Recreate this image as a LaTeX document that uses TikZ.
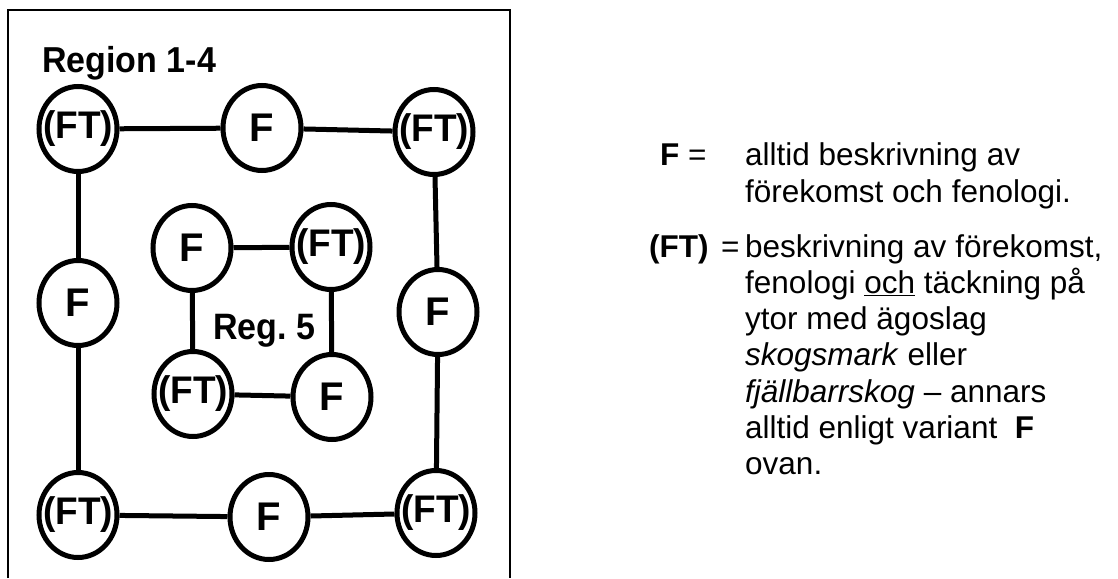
\documentclass[tikz,border=0pt]{standalone}
\usepackage{fontspec}
\setmainfont{Liberation Sans}
\usetikzlibrary{shapes.geometric}
\newcommand{\ctrF}{\makebox[0pt]{\fontsize{40}{40}\selectfont F}}
\newcommand{\ctrFT}{\makebox[0pt]{\fontsize{37}{37}\selectfont\scalebox{1}[1.04]{(FT)}}}
\tikzset{
  ring/.style={draw, ellipse, minimum width=78pt, minimum height=85pt, inner sep=0pt,
    line width=5pt, font=\bfseries},
  conn/.style={line width=5pt},
  frame/.style={line width=1.5pt},
  leg/.style={anchor=base west, inner sep=0pt, font=\fontsize{31.5}{36}\selectfont},
  legb/.style={anchor=base west, inner sep=0pt, font=\bfseries\fontsize{31.5}{36}\selectfont},
  title/.style={anchor=base west, inner sep=0pt, font=\bfseries\fontsize{34}{36}\selectfont}
}
\begin{document}
\begin{tikzpicture}[x=1pt, y=-1pt]
\useasboundingbox (0,0) rectangle (1118,578);
% frame
\coordinate (fbl) at (8,578);
\coordinate (ftl) at (8,10);
\coordinate (ftr) at (510,10);
\coordinate (fbr) at (510,578);
\draw[frame] (fbl) -- (ftl) -- (ftr) -- (fbr);
% titles
\node[title] (r14) at (42,73) {\scalebox{1}[1.06]{Region 1-4}};
\node[title] (r5) at (213,339) {\scalebox{1}[1.08]{Reg.\ 5}};
% outer ring
\node[ring] (tl) at (78,129) {\ctrFT};
\node[ring] (tm) at (262,128) {\ctrF};
\node[ring] (tr) at (434,132) {\ctrFT};
\node[ring] (ml) at (78,303) {\ctrF};
\node[ring] (mr) at (438,312) {\ctrF};
\node[ring] (bl) at (78,515) {\ctrFT};
\node[ring] (bm) at (269,517) {\ctrF};
\node[ring] (br) at (436,513) {\ctrFT};
% inner ring
\node[ring] (itl) at (192,248) {\ctrF};
\node[ring] (itr) at (331,247) {\ctrFT};
\node[ring] (ibl) at (193,394) {\ctrFT};
\node[ring] (ibr) at (332,397) {\ctrF};
% connectors
\draw[conn] (tl) -- (tm);
\draw[conn] (tm) -- (tr);
\draw[conn] (tl) -- (ml);
\draw[conn] (ml) -- (bl);
\draw[conn] (tr) -- (mr);
\draw[conn] (mr) -- (br);
\draw[conn] (bl) -- (bm);
\draw[conn] (bm) -- (br);
\draw[conn] (itl) -- (itr);
\draw[conn] (itl) -- (ibl);
\draw[conn] (itr) -- (ibr);
\draw[conn] (ibl) -- (ibr);
% legend
\node[legb] (kF) at (660,165) {F};
\node[leg] (eq1) at (688,165) {=};
\node[leg] (a1) at (745,165) {alltid beskrivning av};
\node[leg] (a2) at (745,202) {förekomst och fenologi.};
\node[legb] (kFT) at (649,257) {(FT)};
\node[leg] (eq2) at (721,257) {=};
\node[leg] (b1) at (745,257) {beskrivning av förekomst,};
\node[leg] (b2) at (745,293.3) {fenologi \underline{och} täckning på};
\node[leg] (b3) at (745,329.6) {ytor med ägoslag};
\node[leg] (b4) at (745,365.9) {\textit{skogsmark} eller};
\node[leg] (b5) at (745,402.2) {\textit{fjällbarrskog} – annars};
\node[leg] (b6) at (745,438.5) {alltid enligt variant\ \ \textbf{F}};
\node[leg] (b7) at (745,474.8) {ovan.};
\end{tikzpicture}
\end{document}
